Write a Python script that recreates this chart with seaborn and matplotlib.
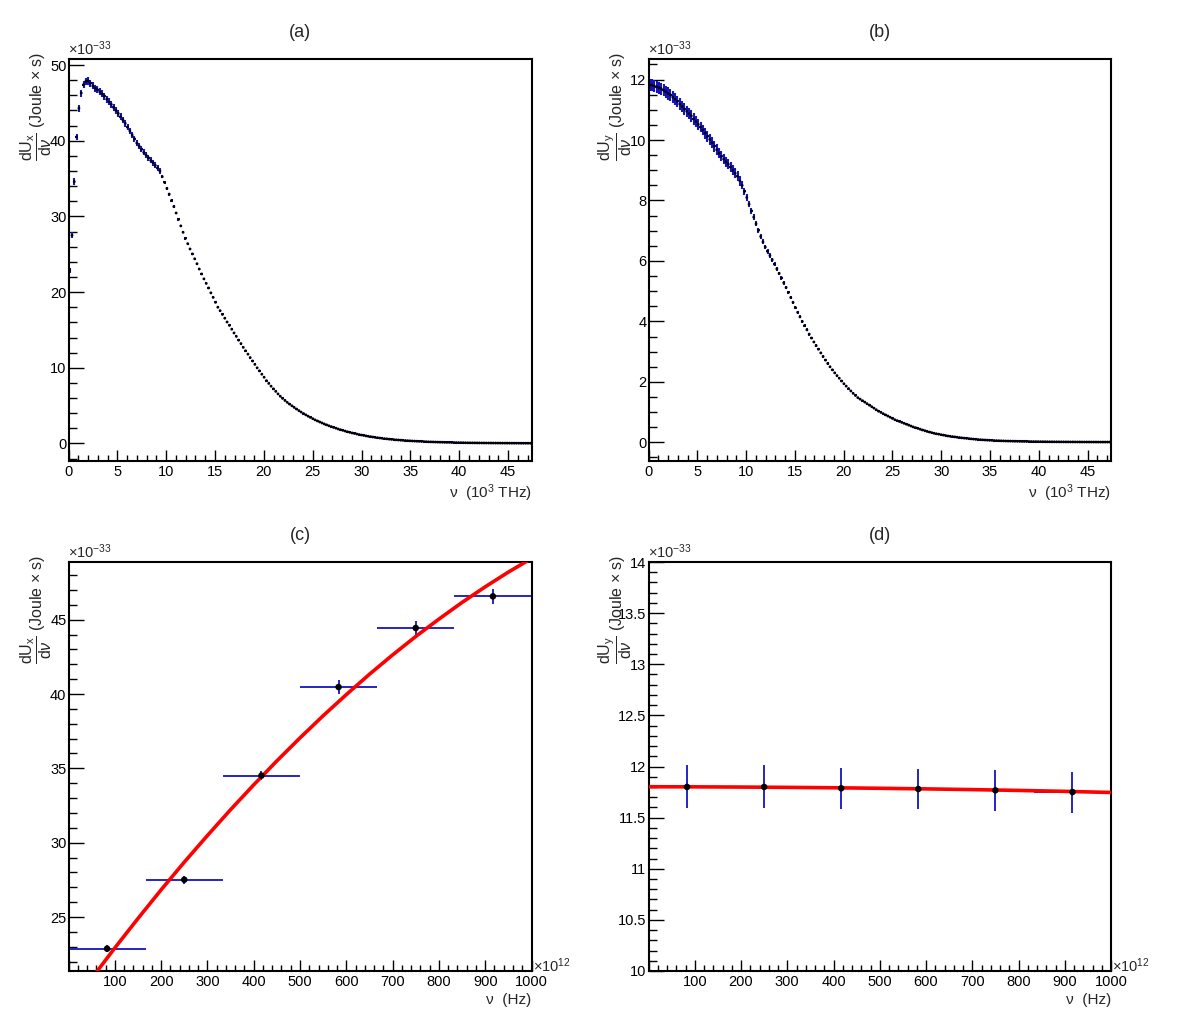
import numpy as np
import pandas as pd
import matplotlib
matplotlib.use("Agg")
import matplotlib.pyplot as plt
import seaborn as sns
from matplotlib.ticker import MultipleLocator, FuncFormatter

# ---------------- data ----------------
# (a) dU_x/dnu histogram, 200 bins over 0 .. 47.4 (10^3 THz), units 1e-33 J s
a_range = (0.0, 47.4)
a_values = [
    22.9, 27.5, 34.6, 40.5, 44.3, 46.3, 47.4, 47.85, 47.9, 47.6,
    47.25, 46.95, 46.75, 46.45, 46.2, 45.9, 45.5, 45.15, 44.8, 44.4,
    44.0, 43.6, 43.2, 42.75, 42.3, 41.8, 41.3, 40.75, 40.25, 39.7,
    39.3, 38.85, 38.45, 38.1, 37.75, 37.4, 37.1, 36.75, 36.4, 36.0,
    35.25, 34.5, 33.7, 32.95, 32.1, 31.3, 30.45, 29.6, 28.75, 27.9,
    27.1, 26.4, 25.7, 25.05, 24.4, 23.75, 23.05, 22.4, 21.75, 21.15,
    20.55, 19.9, 19.3, 18.65, 18.0, 17.55, 17.05, 16.55, 16.05, 15.6,
    15.1, 14.6, 14.15, 13.65, 13.2, 12.7, 12.25, 11.8, 11.35, 10.9,
    10.45, 10.0, 9.6, 9.15, 8.75, 8.3, 7.93, 7.57, 7.22, 6.88,
    6.55, 6.24, 5.95, 5.68, 5.43, 5.2, 4.98, 4.76, 4.55, 4.35,
    4.15, 3.96, 3.78, 3.6, 3.44, 3.28, 3.12, 2.98, 2.84, 2.71,
    2.58, 2.46, 2.34, 2.23, 2.12, 2.02, 1.92, 1.82, 1.73, 1.64,
    1.55, 1.47, 1.39, 1.32, 1.25, 1.18, 1.12, 1.06, 1.0, 0.95,
    0.9, 0.85, 0.8, 0.76, 0.72, 0.68, 0.64, 0.61, 0.57, 0.54,
    0.51, 0.48, 0.46, 0.43, 0.41, 0.39, 0.37, 0.35, 0.33, 0.31,
    0.295, 0.28, 0.265, 0.25, 0.235, 0.22, 0.21, 0.2, 0.19, 0.18,
    0.17, 0.16, 0.15, 0.145, 0.14, 0.13, 0.125, 0.12, 0.11, 0.105,
    0.1, 0.095, 0.09, 0.085, 0.08, 0.078, 0.075, 0.07, 0.068, 0.065,
    0.062, 0.06, 0.057, 0.055, 0.052, 0.05, 0.048, 0.046, 0.044, 0.042,
    0.04, 0.039, 0.037, 0.036, 0.034, 0.033, 0.032, 0.031, 0.03, 0.029,
]
a_errors = [
    0.35, 0.38, 0.42, 0.44, 0.46, 0.47, 0.47, 0.47, 0.47, 0.47,
    0.47, 0.47, 0.46, 0.46, 0.46, 0.46, 0.45, 0.45, 0.45, 0.45,
    0.44, 0.44, 0.44, 0.43, 0.43, 0.43, 0.42, 0.42, 0.42, 0.41,
    0.41, 0.4, 0.4, 0.4, 0.39, 0.39, 0.38, 0.38, 0.37, 0.37,
    0.22, 0.21, 0.2, 0.19, 0.18, 0.17, 0.17, 0.16, 0.16, 0.15,
    0.15, 0.14, 0.14, 0.13, 0.13, 0.13, 0.12, 0.12, 0.12, 0.11,
    0.11, 0.11, 0.1, 0.1, 0.1, 0.1, 0.1, 0.09, 0.09, 0.09,
    0.09, 0.09, 0.08, 0.08, 0.08, 0.08, 0.08, 0.08, 0.07, 0.07,
    0.07, 0.07, 0.07, 0.07, 0.07, 0.07, 0.07, 0.07, 0.07, 0.07,
    0.06, 0.06, 0.06, 0.06, 0.06, 0.06, 0.06, 0.06, 0.06, 0.06,
    0.05, 0.05, 0.05, 0.05, 0.05, 0.05, 0.05, 0.05, 0.05, 0.05,
    0.05, 0.05, 0.05, 0.05, 0.05, 0.05, 0.05, 0.05, 0.05, 0.05,
    0.04, 0.04, 0.04, 0.04, 0.04, 0.04, 0.04, 0.04, 0.04, 0.04,
    0.04, 0.04, 0.04, 0.04, 0.04, 0.04, 0.04, 0.04, 0.04, 0.04,
    0.03, 0.03, 0.03, 0.03, 0.03, 0.03, 0.03, 0.03, 0.03, 0.03,
    0.03, 0.03, 0.03, 0.03, 0.03, 0.03, 0.03, 0.03, 0.03, 0.03,
    0.02, 0.02, 0.02, 0.02, 0.02, 0.02, 0.02, 0.02, 0.02, 0.02,
    0.02, 0.02, 0.02, 0.02, 0.02, 0.02, 0.02, 0.02, 0.02, 0.02,
    0.02, 0.02, 0.02, 0.02, 0.02, 0.02, 0.02, 0.02, 0.02, 0.02,
    0.02, 0.02, 0.02, 0.02, 0.02, 0.02, 0.02, 0.02, 0.02, 0.02,
]

# (b) dU_y/dnu histogram, same binning
b_range = (0.0, 47.4)
b_values = [
    11.82, 11.81, 11.79, 11.76, 11.73, 11.70, 11.65, 11.6, 11.54, 11.49,
    11.42, 11.35, 11.28, 11.19, 11.11, 11.03, 10.95, 10.87, 10.8, 10.7,
    10.61, 10.52, 10.43, 10.33, 10.23, 10.12, 10.02, 9.91, 9.8, 9.68,
    9.56, 9.46, 9.37, 9.28, 9.2, 9.11, 9.0, 8.9, 8.8, 8.65,
    8.5, 8.3, 8.1, 7.88, 7.66, 7.45, 7.23, 7.01, 6.81, 6.63,
    6.46, 6.32, 6.18, 6.04, 5.89, 5.74, 5.59, 5.44, 5.28, 5.12,
    4.96, 4.79, 4.63, 4.46, 4.3, 4.15, 4.0, 3.86, 3.72, 3.58,
    3.45, 3.32, 3.2, 3.08, 2.96, 2.84, 2.72, 2.61, 2.5, 2.4,
    2.3, 2.21, 2.12, 2.03, 1.94, 1.86, 1.78, 1.7, 1.62, 1.55,
    1.48, 1.43, 1.38, 1.33, 1.28, 1.23, 1.18, 1.13, 1.08, 1.03,
    0.99, 0.95, 0.91, 0.87, 0.83, 0.79, 0.75, 0.72, 0.69, 0.66,
    0.63, 0.6, 0.57, 0.54, 0.51, 0.485, 0.46, 0.435, 0.41, 0.385,
    0.36, 0.34, 0.32, 0.3, 0.285, 0.27, 0.255, 0.24, 0.225, 0.21,
    0.2, 0.19, 0.18, 0.17, 0.16, 0.15, 0.14, 0.132, 0.124, 0.116,
    0.108, 0.1, 0.094, 0.088, 0.083, 0.078, 0.073, 0.069, 0.065, 0.061,
    0.057, 0.054, 0.051, 0.048, 0.045, 0.043, 0.041, 0.039, 0.037, 0.035,
    0.033, 0.031, 0.03, 0.029, 0.028, 0.027, 0.026, 0.025, 0.024, 0.023,
    0.022, 0.021, 0.02, 0.019, 0.018, 0.018, 0.017, 0.017, 0.016, 0.016,
    0.015, 0.015, 0.014, 0.014, 0.013, 0.013, 0.013, 0.012, 0.012, 0.012,
    0.011, 0.011, 0.011, 0.011, 0.01, 0.01, 0.01, 0.01, 0.01, 0.01,
]
b_errors = [
    0.2, 0.2, 0.2, 0.2, 0.2, 0.2, 0.2, 0.2, 0.2, 0.2,
    0.19, 0.19, 0.19, 0.19, 0.19, 0.19, 0.19, 0.19, 0.19, 0.19,
    0.18, 0.18, 0.18, 0.18, 0.18, 0.18, 0.18, 0.18, 0.18, 0.18,
    0.17, 0.17, 0.17, 0.17, 0.17, 0.17, 0.17, 0.17, 0.17, 0.17,
    0.13, 0.12, 0.11, 0.1, 0.1, 0.09, 0.09, 0.09, 0.08, 0.08,
    0.08, 0.08, 0.07, 0.07, 0.07, 0.07, 0.06, 0.06, 0.06, 0.06,
    0.05, 0.05, 0.05, 0.05, 0.05, 0.05, 0.05, 0.05, 0.05, 0.05,
    0.04, 0.04, 0.04, 0.04, 0.04, 0.04, 0.04, 0.04, 0.04, 0.04,
    0.03, 0.03, 0.03, 0.03, 0.03, 0.03, 0.03, 0.03, 0.03, 0.03,
    0.025, 0.025, 0.025, 0.025, 0.025, 0.025, 0.025, 0.025, 0.025, 0.025,
    0.02, 0.02, 0.02, 0.02, 0.02, 0.02, 0.02, 0.02, 0.02, 0.02,
    0.02, 0.02, 0.02, 0.02, 0.02, 0.02, 0.02, 0.02, 0.02, 0.02,
    0.015, 0.015, 0.015, 0.015, 0.015, 0.015, 0.015, 0.015, 0.015, 0.015,
    0.015, 0.015, 0.015, 0.015, 0.015, 0.015, 0.015, 0.015, 0.015, 0.015,
    0.01, 0.01, 0.01, 0.01, 0.01, 0.01, 0.01, 0.01, 0.01, 0.01,
    0.01, 0.01, 0.01, 0.01, 0.01, 0.01, 0.01, 0.01, 0.01, 0.01,
    0.01, 0.01, 0.01, 0.01, 0.01, 0.01, 0.01, 0.01, 0.01, 0.01,
    0.01, 0.01, 0.01, 0.01, 0.01, 0.01, 0.01, 0.01, 0.01, 0.01,
    0.01, 0.01, 0.01, 0.01, 0.01, 0.01, 0.01, 0.01, 0.01, 0.01,
    0.01, 0.01, 0.01, 0.01, 0.01, 0.01, 0.01, 0.01, 0.01, 0.01,
]

# (c) and (d): 6 bins over 0 .. 1000 (x 1e12 Hz)
cd_edges = [0.0, 166.67, 333.33, 500.0, 666.67, 833.33, 1000.0]
c_values = [22.87, 27.51, 34.51, 40.47, 44.44, 46.57]
c_errors = [0.22, 0.28, 0.3, 0.46, 0.49, 0.51]
c_fit_nu = [50, 100, 150, 200, 250, 300, 350, 400, 450, 500, 550,
            600, 650, 700, 750, 800, 850, 900, 950, 1000]
c_fit_val = [20.87, 22.92, 24.90, 26.83, 28.69, 30.48, 32.22, 33.89, 35.50,
             37.05, 38.54, 39.96, 41.33, 42.63, 43.87, 45.04, 46.16, 47.21,
             48.20, 49.12]

d_values = [11.80, 11.80, 11.787, 11.78, 11.767, 11.75]
d_errors = [0.21, 0.21, 0.2, 0.2, 0.2, 0.2]
d_fit_nu = [0, 100, 200, 300, 400, 500, 600, 700, 800, 900, 1000]
d_fit_val = [11.802, 11.801, 11.799, 11.796, 11.792, 11.787, 11.781,
             11.774, 11.766, 11.757, 11.746]

titles = ["(a)", "(b)", "(c)", "(d)"]
ylab_x = r"$\dfrac{\mathrm{dU}_{\mathrm{x}}}{\mathrm{d}\nu}$ (Joule $\times$ s)"
ylab_y = r"$\dfrac{\mathrm{dU}_{\mathrm{y}}}{\mathrm{d}\nu}$ (Joule $\times$ s)"
xlab_top = "ν  (10$^{3}$ THz)"
xlab_bot = "ν  (Hz)"
yexp = r"$\times$10$^{-33}$"
xexp = r"$\times$10$^{12}$"

# ---------------- style ----------------
sns.set_theme(style="white")
plt.rcParams["font.family"] = ["Liberation Sans", "DejaVu Sans"]
plt.rcParams["mathtext.fontset"] = "custom"
plt.rcParams["mathtext.rm"] = "Liberation Sans"
plt.rcParams["mathtext.it"] = "Liberation Sans:italic"
plt.rcParams["mathtext.bf"] = "Liberation Sans:bold"

BLUE = "#1414c0"
W, H = 1182, 1023
fig = plt.figure(figsize=(W / 100, H / 100), dpi=100)
fig.patch.set_facecolor("white")


def add_ax(l, r, t, b):
    return fig.add_axes([l / W, 1 - b / H, (r - l) / W, (b - t) / H])


ax_a = add_ax(68.5, 531.5, 59, 460.5)
ax_b = add_ax(648.5, 1111, 59, 460.5)
ax_c = add_ax(68.5, 531.5, 562, 971)
ax_d = add_ax(648.5, 1111, 562, 971)


def draw_hist(ax, edges, vals, errs, msize, elw):
    edges = np.asarray(edges, dtype=float)
    centers = 0.5 * (edges[:-1] + edges[1:])
    half = 0.5 * np.diff(edges)
    ax.errorbar(centers, vals, yerr=errs, xerr=half, fmt="none",
                ecolor=BLUE, elinewidth=elw, capsize=0, zorder=2)
    df = pd.DataFrame({"nu": centers, "val": vals})
    sns.scatterplot(data=df, x="nu", y="val", ax=ax, color="black",
                    s=msize, edgecolor="none", linewidth=0, zorder=4,
                    legend=False)


def draw_fit(ax, xs, ys):
    df = pd.DataFrame({"nu": xs, "val": ys})
    sns.lineplot(data=df, x="nu", y="val", ax=ax, color="red",
                 linewidth=2.6, zorder=3, legend=False, sort=True)


def style(ax, xlim, ylim, xmaj, xmin, ymaj, ymin, hide_x0=False):
    ax.set_xlim(*xlim)
    ax.set_ylim(*ylim)
    ax.xaxis.set_major_locator(MultipleLocator(xmaj))
    ax.xaxis.set_minor_locator(MultipleLocator(xmin))
    ax.yaxis.set_major_locator(MultipleLocator(ymaj))
    ax.yaxis.set_minor_locator(MultipleLocator(ymin))
    ax.xaxis.set_major_formatter(FuncFormatter(
        lambda v, p: "" if (hide_x0 and abs(v) < 1e-9) else f"{v:g}"))
    ax.yaxis.set_major_formatter(FuncFormatter(lambda v, p: f"{v:g}"))
    ax.tick_params(which="both", direction="in", top=False, right=False,
                   bottom=True, left=True, colors="black", labelsize=10.5)
    ax.tick_params(axis="x", which="major", length=8, width=1.0, pad=3)
    ax.tick_params(axis="x", which="minor", length=4.2, width=1.0)
    ax.tick_params(axis="y", which="major", length=11, width=1.0, pad=1.5)
    ax.tick_params(axis="y", which="minor", length=5.5, width=1.0)
    for s in ax.spines.values():
        s.set_visible(True)
        s.set_linewidth(1.5)
        s.set_color("black")
    ax.grid(False)
    ax.set_facecolor("white")


def labels(ax, title, ylab, xlab, xexp_txt=None):
    ax.set_title(title, fontsize=13, pad=16)
    ax.set_ylabel(ylab, fontsize=11.5, loc="top")
    ax.yaxis.set_label_coords(-0.031, 1.018)
    ax.set_xlabel(xlab, fontsize=11, loc="right", labelpad=3)
    ax.text(0.0, 1.003, yexp, transform=ax.transAxes, ha="left",
            va="bottom", fontsize=10.5)
    if xexp_txt:
        ax.text(1.003, 0.012, xexp_txt, transform=ax.transAxes, ha="left",
                va="center", fontsize=10.5)


# (a)
a_edges = np.linspace(a_range[0], a_range[1], len(a_values) + 1)
draw_hist(ax_a, a_edges, a_values, a_errors, 4, 1.5)
style(ax_a, a_range, (-2.25, 50.8), 5, 1, 10, 2)
labels(ax_a, titles[0], ylab_x, xlab_top)

# (b)
b_edges = np.linspace(b_range[0], b_range[1], len(b_values) + 1)
draw_hist(ax_b, b_edges, b_values, b_errors, 4, 1.5)
style(ax_b, b_range, (-0.6, 12.68), 5, 1, 2, 0.5)
labels(ax_b, titles[1], ylab_y, xlab_top)

# (c)
draw_hist(ax_c, cd_edges, c_values, c_errors, 22, 1.3)
draw_fit(ax_c, c_fit_nu, c_fit_val)
style(ax_c, (0, 1000), (21.37, 48.88), 100, 20, 5, 1, hide_x0=True)
labels(ax_c, titles[2], ylab_x, xlab_bot, xexp)

# (d)
draw_hist(ax_d, cd_edges, d_values, d_errors, 22, 1.3)
draw_fit(ax_d, d_fit_nu, d_fit_val)
style(ax_d, (0, 1000), (10, 14), 100, 20, 0.5, 0.1, hide_x0=True)
labels(ax_d, titles[3], ylab_y, xlab_bot, xexp)

fig.savefig("out.png", dpi=100, facecolor="white")
